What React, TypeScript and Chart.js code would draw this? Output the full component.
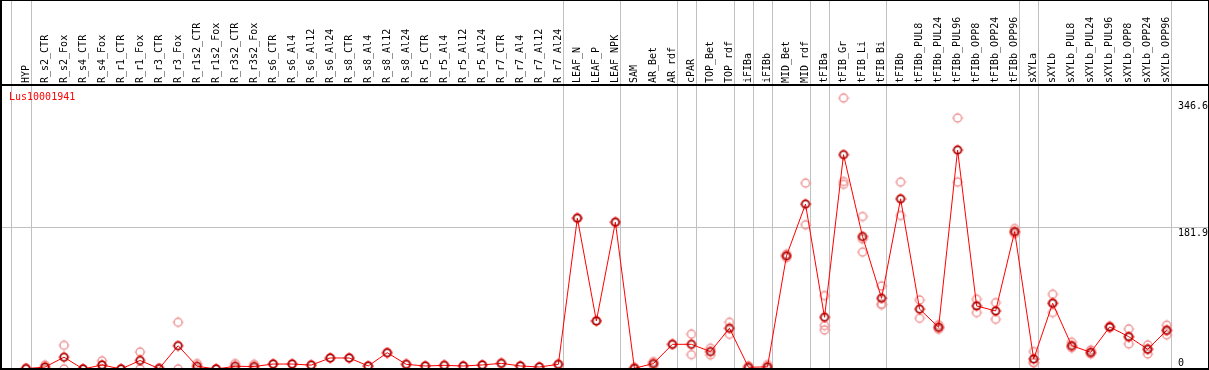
import React, { useEffect, useRef } from 'react';
import { Chart, registerables } from 'chart.js';

Chart.register(...registerables);

const categories = [
  'HYP', 'R_s2_CTR', 'R_s2_Fox', 'R_s4_CTR', 'R_s4_Fox', 'R_r1_CTR', 'R_r1_Fox', 'R_r3_CTR', 'R_r3_Fox',
  'R_r1s2_CTR', 'R_r1s2_Fox', 'R_r3s2_CTR', 'R_r3s2_Fox', 'R_s6_CTR', 'R_s6_Al4', 'R_s6_Al12', 'R_s6_Al24',
  'R_s8_CTR', 'R_s8_Al4', 'R_s8_Al12', 'R_s8_Al24', 'R_r5_CTR', 'R_r5_Al4', 'R_r5_Al12', 'R_r5_Al24',
  'R_r7_CTR', 'R_r7_Al4', 'R_r7_Al12', 'R_r7_Al24', 'LEAF_N', 'LEAF_P', 'LEAF_NPK', 'SAM', 'AR_Bet', 'AR_rdf',
  'cPAR', 'TOP_Bet', 'TOP_rdf', 'iFIBa', 'iFIBb', 'MID_Bet', 'MID_rdf', 'tFIBa', 'tFIB_Gr', 'tFIB_Li', 'tFIB_Bi',
  'tFIBb', 'tFIBb_PUL8', 'tFIBb_PUL24', 'tFIBb_PUL96', 'tFIBb_OPP8', 'tFIBb_OPP24', 'tFIBb_OPP96', 'sXYLa',
  'sXYLb', 'sXYLb_PUL8', 'sXYLb_PUL24', 'sXYLb_PUL96', 'sXYLb_OPP8', 'sXYLb_OPP24', 'sXYLb_OPP96',
];

const means = [
  0.5, 2.5, 15.2, 0, 5.2, 0, 11, 0.5, 30,
  3.5, 0, 3.5, 3.2, 6.4, 6.4, 5, 14.2,
  14.2, 3.9, 21, 6, 3.9, 4.7, 3.9, 5.2,
  7.3, 3.9, 2.6, 6, 194.4, 61.9, 189.2, 0.9, 7, 31.8,
  31.8, 22.4, 52.5, 2.2, 2.8, 145.8, 212.5, 66.7, 276.2, 170.7, 91.2,
  219.3, 77.2, 53.8, 282.2, 81.3, 74.8, 177.1, 12.9,
  84.7, 30.1, 21.5, 54.2, 41.7, 25.4, 49.9,
];

const replicates = [
  [1, 0], [5, 0], [30.5, 0], [0, 0], [10.5, 0], [0, 0], [21.9, 0], [1, 0], [60.2, 0],
  [7, 0], [0, 0], [7, 0], [6, 0.5], [6.4], [6.4], [5], [14.2],
  [14.2], [3.9], [21], [6], [3.9], [4.7], [3.9], [5.2],
  [7.3], [3.9], [2.6], [6], [194.4], [61.9], [189.2], [2, 0], [9.5, 4.5], [31.8],
  [45, 18.5], [26.7, 18], [60.2, 44.7], [4, 0.4], [5.6, 0], [148, 143.5], [239.6, 185.8],
  [94.6, 55.9, 50.3], [349.2, 241.6, 238], [196.5, 167.3, 150.6], [107, 83.5, 83],
  [240.9, 197.8], [89, 65.4], [57, 51.2, 53.2], [323.4, 240.9], [89.9, 72.7], [85.5, 64.1],
  [181, 176, 174.3], [22.4, 8.2, 8.1],
  [96.3, 72.7, 85], [34.4, 27.5, 28.4], [24.5, 19.4, 20.6], [55.5, 52.9], [51.6, 32.3, 41.2],
  [31, 19.4, 25.8], [56.4, 43.9, 49.4],
];

const yTickValues = [0, 181.9, 346.6];
const separatorsAfter = [-1, 0, 28, 31, 34, 35, 37, 38, 39, 41, 42, 45, 52, 53, 60];
const geneName = 'Lus10001941';

const FONT = '"DejaVu Sans Mono", monospace';

function makeMarker(ring: string, inner: string | null) {
  const c = document.createElement('canvas');
  c.width = 12;
  c.height = 12;
  const g = c.getContext('2d')!;
  g.strokeStyle = ring;
  g.lineWidth = 1.5;
  g.beginPath();
  g.arc(6, 6, 4, 0, Math.PI * 2);
  g.stroke();
  if (inner) {
    g.strokeStyle = inner;
    g.lineWidth = 0.8;
    g.beginPath();
    g.arc(6, 6, 3.4, 0, Math.PI * 2);
    g.stroke();
  }
  g.fillStyle = ring;
  g.fillRect(5.5, 0.5, 1, 1);
  g.fillRect(5.5, 10.5, 1, 1);
  g.fillRect(0.5, 5.5, 1, 1);
  g.fillRect(10.5, 5.5, 1, 1);
  return c;
}

const zeroPad = (scale: any) => {
  scale.paddingLeft = 0;
  scale.paddingRight = 0;
  scale.paddingTop = 0;
  scale.paddingBottom = 0;
};

export default function App() {
  const ref = useRef<HTMLCanvasElement | null>(null);

  useEffect(() => {
    document.body.style.margin = '0';
    const canvas = ref.current;
    if (!canvas) return;

    const meanMarker = makeMarker('rgb(235,0,0)', 'rgb(90,0,0)');
    const repMarker = makeMarker('rgb(240,150,150)', null);

    const meanData = means.map((v, i) => ({ x: i, y: v }));
    const repData: { x: number; y: number }[] = [];
    replicates.forEach((reps, i) => reps.forEach((v) => repData.push({ x: i, y: v })));

    const framePlugin = {
      id: 'frame',
      beforeDraw(chart: any) {
        const ctx = chart.ctx;
        ctx.save();
        ctx.fillStyle = '#ffffff';
        ctx.fillRect(0, 0, chart.width, chart.height);
        ctx.restore();
      },
      beforeDatasetsDraw(chart: any) {
        const ctx = chart.ctx;
        const xs = chart.scales.x;
        ctx.save();
        ctx.strokeStyle = 'rgb(192,192,192)';
        ctx.lineWidth = 1;
        separatorsAfter.forEach((i) => {
          const px = Math.round(xs.getPixelForValue(i) + 4.5) + 0.5;
          ctx.beginPath();
          ctx.moveTo(px, 0);
          ctx.lineTo(px, 369);
          ctx.stroke();
        });
        ctx.restore();
      },
      afterDraw(chart: any) {
        const ctx = chart.ctx;
        ctx.save();
        ctx.fillStyle = '#000000';
        ctx.fillRect(0, 0, 1209, 1);
        ctx.fillRect(0, 0, 2, 370);
        ctx.fillRect(0, 368, 1209, 2);
        ctx.fillRect(1208, 0, 1, 370);
        ctx.fillRect(0, 84, 1209, 2);
        ctx.fillStyle = 'rgb(255,0,0)';
        ctx.font = '10px ' + FONT;
        ctx.textBaseline = 'top';
        ctx.textAlign = 'left';
        ctx.fillText(geneName, 9, 92);
        ctx.restore();
      },
    };

    const chart = new Chart(canvas, {
      type: 'line',
      data: {
        datasets: [
          {
            label: 'mean',
            data: meanData,
            borderColor: 'rgb(255,0,0)',
            borderWidth: 1,
            pointStyle: meanMarker as any,
            pointRadius: 4,
            showLine: true,
            tension: 0,
            clip: false as any,
            order: 0,
          },
          {
            label: 'replicates',
            data: repData,
            borderColor: 'rgb(240,150,150)',
            pointStyle: repMarker as any,
            pointRadius: 4,
            showLine: false,
            clip: false as any,
            order: 1,
          },
        ],
      },
      options: {
        animation: false,
        responsive: false,
        events: [],
        layout: { autoPadding: false, padding: { left: 0, right: 1, top: 0, bottom: 1 } },
        plugins: { legend: { display: false }, tooltip: { enabled: false }, title: { display: false } },
        scales: {
          x: {
            type: 'linear',
            position: 'top',
            min: -1.368,
            max: 62.17,
            bounds: 'data',
            afterBuildTicks: (scale: any) => {
              scale.ticks = categories.map((_, i) => ({ value: i }));
            },
            afterFit: (scale: any) => {
              scale.height = 85;
              zeroPad(scale);
            },
            grid: { display: false, drawTicks: false },
            border: { display: false },
            ticks: {
              autoSkip: false,
              maxRotation: 90,
              minRotation: 90,
              padding: 2,
              labelOffset: 12,
              color: '#000',
              font: { family: FONT, size: 10 },
              callback: (v: any) => categories[v] ?? '',
            },
          },
          y: {
            type: 'linear',
            position: 'right',
            min: 0,
            max: 366,
            bounds: 'data',
            afterBuildTicks: (scale: any) => {
              scale.ticks = yTickValues.map((v) => ({ value: v }));
            },
            afterFit: (scale: any) => {
              scale.width = 0;
              zeroPad(scale);
            },
            grid: {
              drawTicks: false,
              color: (c: any) => (c.tick && c.tick.value === 181.9 ? 'rgb(192,192,192)' : 'rgba(0,0,0,0)'),
            },
            border: { display: false },
            ticks: {
              mirror: true,
              crossAlign: 'far',
              padding: 0,
              color: '#000',
              font: { family: FONT, size: 10, lineHeight: 1.2 },
              callback: (v: any) => (v === 0 ? ['0', ''] : ['', String(v)]),
            },
          },
        },
      },
      plugins: [framePlugin],
    });

    return () => chart.destroy();
  }, []);

  return (
    <div style={{ width: 1209, height: 370 }}>
      <canvas ref={ref} width={1209} height={370} style={{ display: 'block' }} />
    </div>
  );
}
